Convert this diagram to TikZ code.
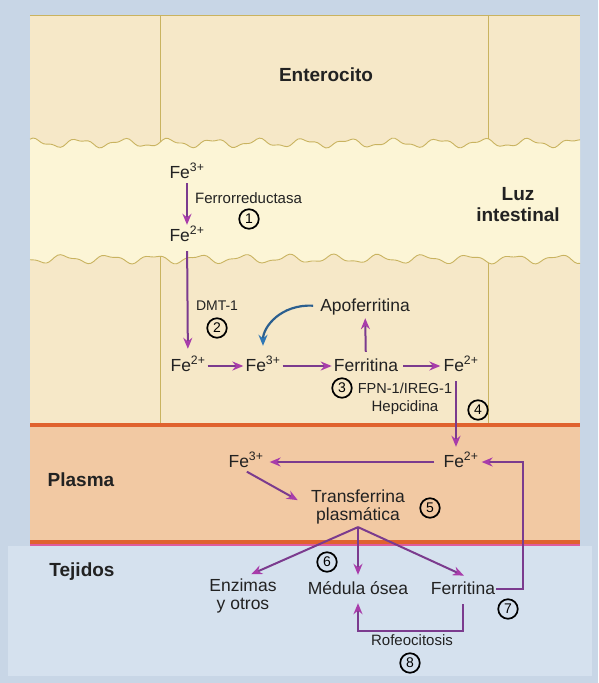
\documentclass[tikz,border=0pt]{standalone}
\usepackage{fontspec}
\setmainfont{Liberation Sans}
\usetikzlibrary{arrows.meta,calc}
\definecolor{bgblue}{HTML}{C8D6E6}
\definecolor{tejblue}{HTML}{D5E1EE}
\definecolor{entbeige}{HTML}{F6E8C8}
\definecolor{lumenyel}{HTML}{FCF5D6}
\definecolor{plasmapeach}{HTML}{F2C9A3}
\definecolor{orangeline}{HTML}{E0622E}
\definecolor{pinkline}{HTML}{DE5C9C}
\definecolor{wallc}{HTML}{C9B360}
\definecolor{arrc}{HTML}{7B3B8E}
\definecolor{headc}{HTML}{A83CAA}
\definecolor{bluearr}{HTML}{2B5F8F}
\definecolor{bluehead}{HTML}{2F77B5}
\definecolor{txt}{HTML}{222222}
\tikzset{
  wall/.style={draw=wallc, line width=0.9pt},
  arr/.style={draw=arrc, line width=2pt, -{Stealth[length=11pt,width=9pt,color=headc]}},
  barr/.style={draw=bluearr, line width=2.2pt, -{Stealth[length=11pt,width=9pt,color=bluehead]}},
  lbl/.style={text=txt, inner sep=1pt, font=\fontsize{17.5}{18}\selectfont, text height=13pt, text depth=3pt},
  lbltwo/.style={text=txt, inner sep=1pt, font=\fontsize{17.5}{17.5}\selectfont, align=center},
  small/.style={text=txt, inner sep=1pt, font=\fontsize{15}{18}\selectfont},
  region/.style={text=txt, inner sep=1pt, font=\bfseries\fontsize{19}{21}\selectfont, align=center},
  circ/.style={circle, draw=black, line width=1.7pt, minimum size=19.5pt, inner sep=0pt, text=black, font=\fontsize{14}{14}\selectfont},
}
\newcommand{\Fe}[1]{Fe\textsuperscript{#1}}
\begin{document}
\begin{tikzpicture}[x=1pt,y=-1pt]
\useasboundingbox (0,0) rectangle (598,683);
% backgrounds
\fill[bgblue] (0,0) rectangle (598,683);
\fill[tejblue] (8,546) rectangle (592,676);
\fill[entbeige] (30,15) rectangle (580,425);
\fill[lumenyel] plot[domain=30:580,samples=200] (\x,{143+3.5*sin(8*\x)+1.5*sin(19*\x)})
  -- plot[domain=580:30,samples=200] (\x,{259+3.5*sin(8*\x+120)+1.5*sin(17*\x)}) -- cycle;
\draw[wall] plot[domain=30:580,samples=200] (\x,{143+3.5*sin(8*\x)+1.5*sin(19*\x)});
\draw[wall] plot[domain=30:580,samples=200] (\x,{259+3.5*sin(8*\x+120)+1.5*sin(17*\x)});
\draw[wall] (30,15) -- (580,15);
\draw[wall] (160,15) -- (160,{143+3.5*sin(8*160)+1.5*sin(19*160)});
\draw[wall] (488,15) -- (488,{143+3.5*sin(8*488)+1.5*sin(19*488)});
\draw[wall] (160,{259+3.5*sin(8*160+120)+1.5*sin(17*160)}) -- (160,423);
\draw[wall] (488,{259+3.5*sin(8*488+120)+1.5*sin(17*488)}) -- (488,423);
\fill[plasmapeach] (30,425) rectangle (580,543);
\draw[orangeline, line width=4pt] (30,425) -- (580,425);
\draw[orangeline, line width=3.5pt] (30,542) -- (580,542);
\draw[pinkline, line width=1.6pt] (30,545) -- (580,545);

% region labels
\node[region] (ent) at (326,75) {Enterocito};
\node[region] (luz) at (518,205) {Luz\\intestinal};
\node[region] (plasma) at (81,480) {Plasma};
\node[region] (tej) at (82,572) {Tejidos};

% lumen
\node[lbl] (fe3l) at (187,173) {\Fe{3+}};
\node[lbl] (fe2l) at (187,236) {\Fe{2+}};
\node[small, anchor=west] (fred) at (194,198) {Ferrorreductasa};
\node[circ] (c1) at (249,219) {1};
\draw[arr, shorten <=1pt, shorten >=2pt] (fe3l) -- (fe2l);

% enterocyte
\node[small, font=\fontsize{14}{16}\selectfont] (dmt) at (217,306) {DMT-1};
\node[circ] (c2) at (217,328) {2};
\node[lbl] (fe2a) at (188,366) {\Fe{2+}};
\node[lbl] (fe3a) at (263,366) {\Fe{3+}};
\node[lbl] (ferr) at (366,366) {Ferritina};
\node[lbl] (fe2b) at (461,366) {\Fe{2+}};
\node[lbl] (apo) at (365,306) {Apoferritina};
\node[circ] (c3) at (342,388) {3};
\node[small, font=\fontsize{14.5}{16}\selectfont] (fpn) at (405,388) {FPN-1/IREG-1};
\node[small] (hep) at (405,408) {Hepcidina};
\node[circ] (c4) at (478,410) {4};

\draw[arr, shorten <=6pt, shorten >=8pt] (fe2l) -- (fe2a);
\draw[arr, shorten <=1pt, shorten >=1pt] (fe2a) -- (fe3a);
\draw[arr, shorten <=1pt, shorten >=1pt] (fe3a) -- (ferr);
\draw[arr, shorten <=4pt, shorten >=2pt] (ferr) -- (fe2b);
\draw[arr, shorten <=5pt, shorten >=3pt] (ferr) -- (apo);
\draw[barr, shorten <=6pt, shorten >=11pt] (apo.west) .. controls +(-38,-2) and +(0,-30) .. (fe3a.north);

% plasma
\node[lbl] (fe3p) at (246,462) {\Fe{3+}};
\node[lbl] (fe2p) at (461,462) {\Fe{2+}};
\node[lbltwo] (transf) at (358,507) {Transferrina\\plasmática};
\node[circ] (c5) at (430,508) {5};
\draw[arr, shorten <=6pt, shorten >=6pt] ($(fe2b.south)+(-5,0)$) -- ($(fe2p.north)+(-5,0)$);
\draw[arr, shorten <=8pt, shorten >=5pt] (fe2p) -- (fe3p);
\draw[arr, shorten <=1pt, shorten >=14pt] (fe3p.south) -- (transf.west);
\coordinate (split) at ($(transf.south)+(0,2)$);

% tissues
\node[lbltwo] (enz) at (243,596) {Enzimas\\y otros};
\node[lbl] (med) at (358,589) {Médula ósea};
\node[lbl] (ferrt) at (463,589) {Ferritina};
\node[circ] (c6) at (327,562) {6};
\node[circ] (c7) at (508,609) {7};
\node[small] (rof) at (412,640) {Rofeocitosis};
\node[circ] (c8) at (410,663) {8};

\draw[arr, shorten >=9pt] (split) -- (enz.north);
\draw[arr, shorten >=5pt] (split) -- (med.north);
\draw[arr, shorten >=10pt] (split) -- ($(ferrt.north)!0.3!(ferrt.north east)$);
\draw[arr, shorten >=2pt] (ferrt.east) -- ++(27,0) |- (fe2p.east);
\draw[arr, shorten <=6pt, shorten >=5pt] (ferrt.south) -- ++(0,33) -| (med.south);
\end{tikzpicture}
\end{document}
